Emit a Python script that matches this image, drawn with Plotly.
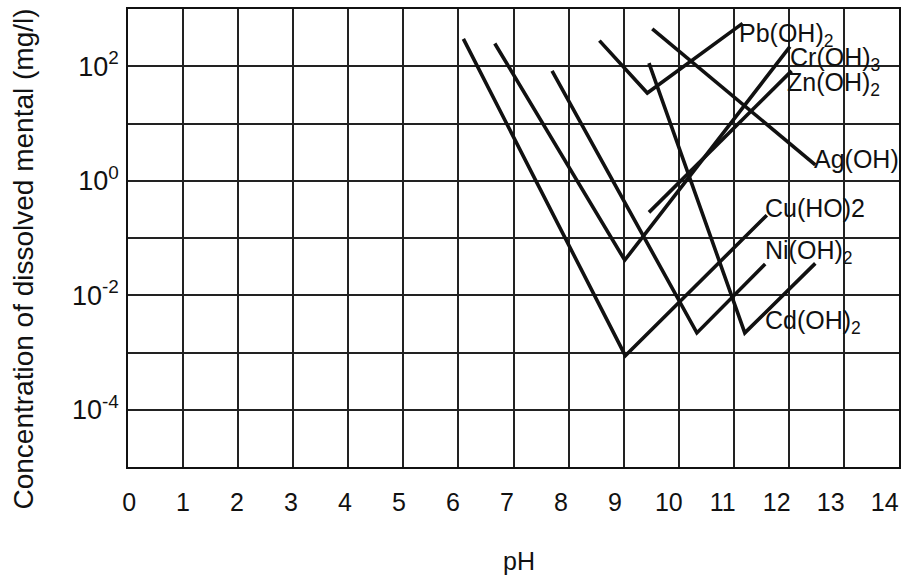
import plotly.graph_objects as go

# Solubility of metal hydroxides versus pH (concentration in mg/l)
cu_ph = [6.09, 9.03, 11.60]
cu_conc = [300, 8.8e-4, 0.25]

zn_ph = [6.66, 9.02, 12.02]
zn_conc = [250, 0.041, 220]

ni_ph = [7.70, 10.33, 11.57]
ni_conc = [83, 2.2e-3, 0.035]

cd_ph = [9.46, 11.20, 12.48]
cd_conc = [113, 2.2e-3, 0.036]

cr_ph = [9.46, 12.05]
cr_conc = [0.28, 83]

pb_ph = [8.56, 9.43, 11.16]
pb_conc = [280, 34, 560]

ag_ph = [9.52, 12.48]
ag_conc = [450, 1.9]

ph_ticks = list(range(0, 15))
ph_tick_labels = [str(v) for v in ph_ticks]

conc_labelled = [1e-4, 1e-2, 1e0, 1e2]
conc_tick_labels = ["10<sup>-4</sup>", "10<sup>-2</sup>", "10<sup>0</sup>", "10<sup>2</sup>"]
conc_unlabelled = [1e-5, 1e-3, 1e-1, 1e1, 1e3]

series = [
    ("Cu(HO)2", cu_ph, cu_conc),
    ("Zn(OH)2", zn_ph, zn_conc),
    ("Ni(OH)2", ni_ph, ni_conc),
    ("Cd(OH)2", cd_ph, cd_conc),
    ("Cr(OH)3", cr_ph, cr_conc),
    ("Pb(OH)2", pb_ph, pb_conc),
    ("Ag(OH)", ag_ph, ag_conc),
]

FONT = "Liberation Sans, Arial, Helvetica, sans-serif"
INK = "#111111"
GRID = "#222222"

fig = go.Figure()
for name, xs, ys in series:
    fig.add_trace(go.Scatter(
        x=xs, y=ys, mode="lines", name=name,
        line=dict(color=INK, width=3.6),
        showlegend=False, hoverinfo="x+y+name",
    ))

# carrier for the tick-label axis
fig.add_trace(go.Scatter(x=[0], y=[1], xaxis="x2", mode="markers",
                         marker=dict(opacity=0), showlegend=False,
                         hoverinfo="skip"))

# curve labels: (text, left pH, log10 of concentration at label centre)
curve_labels = [
    ("Pb(OH)<sub>2</sub>", 11.11, 2.55),
    ("Cr(OH)<sub>3</sub>", 12.03, 2.13),
    ("Zn(OH)<sub>2</sub>", 11.99, 1.69),
    ("Ag(OH)", 12.48, 0.38),
    ("Cu(HO)2", 11.58, -0.47),
    ("Ni(OH)<sub>2</sub>", 11.58, -1.25),
    ("Cd(OH)<sub>2</sub>", 11.58, -2.46),
]
annotations = []
for text, x, ly in curve_labels:
    annotations.append(dict(
        text=text, x=x, y=ly, xref="x", yref="y",
        xanchor="left", yanchor="middle", showarrow=False,
        font=dict(size=25, family=FONT, color=INK),
        xshift=-3,
    ))

annotations.append(dict(
    text="Concentration of dissolved mental (mg/l)",
    textangle=-90, xref="paper", yref="paper", x=0, y=0.453,
    xshift=-104, xanchor="center", yanchor="middle", showarrow=False,
    font=dict(size=28, family=FONT, color=INK),
))
annotations.append(dict(
    text="pH", xref="paper", yref="paper", x=0.507, y=-0.205,
    xanchor="center", yanchor="middle", showarrow=False,
    font=dict(size=25, family=FONT, color=INK),
))

# tick labels sit slightly left of each grid line, drifting toward the right
label_pos = [0.02 + 0.98 * v for v in ph_ticks]

fig.update_layout(
    width=908, height=577,
    margin=dict(l=128, r=7, t=7, b=110),
    paper_bgcolor="white", plot_bgcolor="white",
    font=dict(family=FONT, color=INK),
    xaxis=dict(
        range=[0, 14], tickmode="linear", tick0=0, dtick=1,
        showgrid=True, gridcolor=GRID, gridwidth=1.5,
        showline=True, mirror=True, linecolor=INK, linewidth=1.6,
        showticklabels=False, zeroline=False, ticks="",
    ),
    xaxis2=dict(
        overlaying="x", anchor="y", side="bottom", range=[0, 14],
        tickmode="array", tickvals=label_pos, ticktext=ph_tick_labels,
        showgrid=False, zeroline=False, showline=False, ticks="",
        tickfont=dict(size=25, family=FONT, color=INK),
        ticklabelstandoff=18,
    ),
    yaxis=dict(
        type="log", range=[-5, 3],
        tickmode="array", tickvals=conc_labelled, ticktext=conc_tick_labels,
        showgrid=True, gridcolor=GRID, gridwidth=1.5,
        minor=dict(tickmode="array", tickvals=conc_unlabelled, showgrid=True,
                   gridcolor=GRID, gridwidth=1.5, ticks=""),
        showline=True, mirror=True, linecolor=INK, linewidth=1.6,
        zeroline=False, ticks="",
        tickfont=dict(size=27, family=FONT, color=INK),
        ticklabelstandoff=2,
    ),
    annotations=annotations,
)

fig.write_html("out.html")
